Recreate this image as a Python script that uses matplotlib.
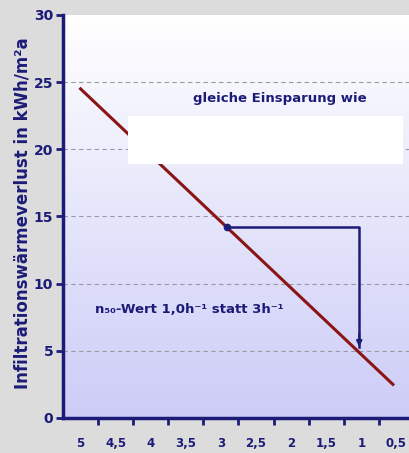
import matplotlib.pyplot as plt
import numpy as np
from matplotlib.patches import Rectangle

# data
n50_line = [5.0, 0.55]
loss_line = [24.5, 2.5]
n50_step = [2.92, 1.03, 1.03]
loss_step = [14.2, 14.2, 5.3]
x_labels = ["5", "4,5", "4", "3,5", "3", "2,5", "2", "1,5", "1", "0,5"]
x_label_pos = [5, 4.5, 4, 3.5, 3, 2.5, 2, 1.5, 1, 0.5]
y_ticks = [0, 5, 10, 15, 20, 25, 30]

navy = "#1c1c78"
red = "#8b1414"

fig = plt.figure(figsize=(4.1, 4.53), dpi=100, facecolor="#dcdcdc")
ax = fig.add_axes([0.1537, 0.0773, 0.856, 0.8896])

# gradient background, white at top to lavender at bottom
grad = np.linspace(0, 1, 256).reshape(-1, 1)
top = np.array([1.0, 1.0, 1.0])
bot = np.array([0.80, 0.80, 0.97])
img = top * (1 - grad[..., None]) + bot * grad[..., None]
ax.imshow(img, extent=[5.25, 0.25, 0, 30], aspect="auto", zorder=0, origin="upper")

ax.set_xlim(5.25, 0.25)
ax.set_ylim(0, 30)

# grid
for y in y_ticks[1:-1]:
    ax.axhline(y, color="#9a9aa6", lw=0.8, ls=(0, (4, 3)), zorder=1)

# main line
ax.plot(n50_line, loss_line, color=red, lw=2.2, zorder=3)

# white box that hides part of the line
ax.add_patch(Rectangle((0.41, 18.88), 3.92, 3.58, facecolor="white",
                       edgecolor="none", zorder=4))

# step from 3 to 1
ax.plot(n50_step, loss_step, color=navy, lw=1.8, zorder=5)
ax.plot(n50_step[0], loss_step[0], "o", color=navy, ms=4.5, zorder=6)
ax.annotate("", xy=(n50_step[2], loss_step[2] - 0.2), xytext=(n50_step[2], loss_step[2] + 1.2),
            arrowprops=dict(arrowstyle="-|>", color=navy, lw=1.5, mutation_scale=8), zorder=6)

ax.text(3.40, 23.8, "gleiche Einsparung wie", color=navy, fontsize=9.5,
        fontweight="bold", va="center", ha="left", zorder=5)
ax.text(4.8, 8.1, "n₅₀-Wert 1,0h⁻¹ statt 3h⁻¹", color=navy,
        fontsize=9.5, fontweight="bold", va="center", ha="left", zorder=5)

# axes styling
for s in ["top", "right"]:
    ax.spines[s].set_visible(False)
for s in ["left", "bottom"]:
    ax.spines[s].set_color(navy)
    ax.spines[s].set_linewidth(2.5)

ax.set_yticks(y_ticks)
ax.set_yticklabels([str(v) for v in y_ticks], fontsize=10, fontweight="bold", color=navy)
ax.tick_params(axis="y", direction="out", length=5, width=2, color=navy, pad=2)

ax.set_xticks(np.arange(4.75, 0.2, -0.5))
ax.set_xticklabels([])
ax.tick_params(axis="x", direction="out", length=5, width=2, color=navy)
ax.set_xticks(x_label_pos, minor=True)
ax.set_xticklabels(x_labels, minor=True, fontsize=8.5, fontweight="bold", color=navy)
ax.tick_params(axis="x", which="minor", length=0, pad=14)

fig.text(0.055, 0.53, "Infiltrationswärmeverlust in kWh/m²a", rotation=90,
         fontsize=12, fontweight="bold", color=navy, ha="center", va="center")

fig.savefig("out.png", dpi=100, facecolor=fig.get_facecolor())
